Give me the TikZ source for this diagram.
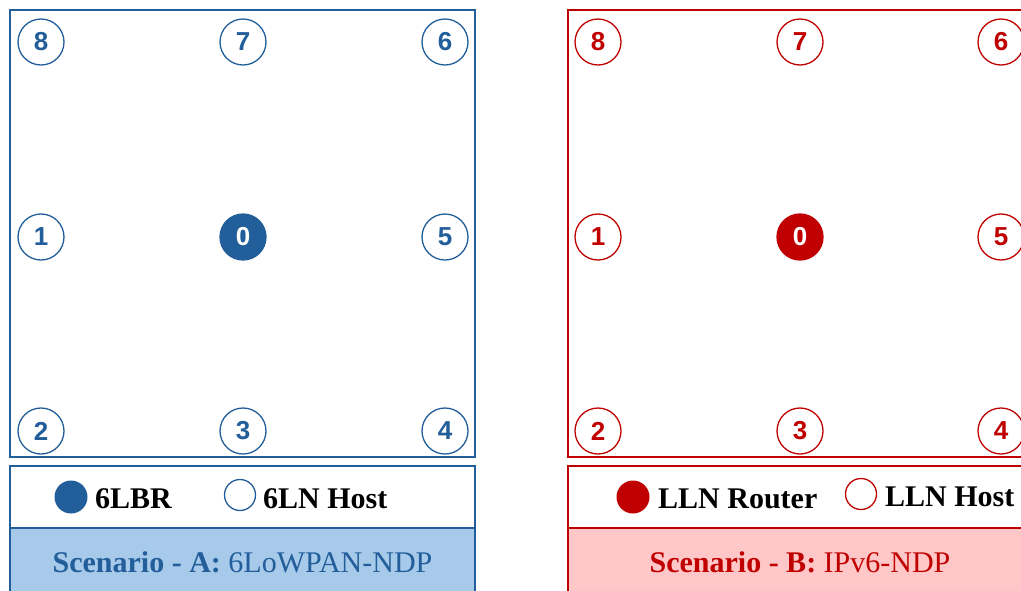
\documentclass[tikz,border=0pt]{standalone}
\usepackage{fontspec}
\setmainfont{Liberation Serif}
\newfontfamily\numfont{Liberation Sans}
\definecolor{cblue}{HTML}{225E9A}
\definecolor{lblue}{HTML}{A7C9EA}
\definecolor{cred}{HTML}{C00000}
\definecolor{lred}{HTML}{FFC7C7}
\begin{document}
\begin{tikzpicture}[x=1pt,y=-1pt,
  nodecirc/.style={circle,draw=#1,line width=1.3pt,minimum size=46pt,inner sep=0pt,fill=white,text=#1,font=\numfont\bfseries\fontsize{26}{26}\selectfont},
  rootcirc/.style={circle,draw=#1,fill=#1,line width=1.3pt,minimum size=46pt,inner sep=0pt,text=white,font=\numfont\bfseries\fontsize{26}{26}\selectfont},
  legfill/.style={circle,fill=#1,minimum size=33pt,inner sep=0pt},
  legopen/.style={circle,draw=#1,line width=1.3pt,minimum size=31pt,inner sep=0pt},
  legtext/.style={anchor=base west,inner sep=0pt,font=\bfseries\fontsize{30}{31}\selectfont},
  captext/.style={anchor=base,inner sep=0pt,text=#1,font=\fontsize{30}{31}\selectfont},
  frame/.style={draw=#1,line width=1.4pt}]
\useasboundingbox (0,0) rectangle (1021,590);
\clip (0,0) rectangle (1021,590);
% ---------- Scenario A ----------
\draw[frame=cblue] (10,10) rectangle (475,457);
\draw[frame=cblue,fill=white] (10,466) rectangle (475,528);
\draw[frame=cblue,fill=lblue] (10,528) rectangle (475,600);
\node[nodecirc=cblue] (a8) at (41,42) {8};
\node[nodecirc=cblue] (a7) at (243,42) {7};
\node[nodecirc=cblue] (a6) at (445,42) {6};
\node[nodecirc=cblue] (a1) at (41,237) {1};
\node[rootcirc=cblue] (a0) at (243,237) {0};
\node[nodecirc=cblue] (a5) at (445,237) {5};
\node[nodecirc=cblue] (a2) at (41,431) {2};
\node[nodecirc=cblue] (a3) at (243,431) {3};
\node[nodecirc=cblue] (a4) at (445,431) {4};
\node[legfill=cblue] (alf) at (71,497) {};
\node[legtext] (alft) at (95,508) {6LBR};
\node[legopen=cblue] (alo) at (240,495) {};
\node[legtext] (alot) at (263,508) {6LN Host};
\node[captext=cblue] (acap) at (242.5,572) {\textbf{Scenario - A:} 6LoWPAN-NDP};
% ---------- Scenario B ----------
\draw[frame=cred] (568,10) rectangle (1032,457);
\draw[frame=cred,fill=white] (568,466) rectangle (1032,528);
\draw[frame=cred,fill=lred] (568,528) rectangle (1032,600);
\node[nodecirc=cred] (b8) at (598,42) {8};
\node[nodecirc=cred] (b7) at (800,42) {7};
\node[nodecirc=cred] (b6) at (1001,42) {6};
\node[nodecirc=cred] (b1) at (598,237) {1};
\node[rootcirc=cred] (b0) at (800,237) {0};
\node[nodecirc=cred] (b5) at (1001,237) {5};
\node[nodecirc=cred] (b2) at (598,431) {2};
\node[nodecirc=cred] (b3) at (800,431) {3};
\node[nodecirc=cred] (b4) at (1001,431) {4};
\node[legfill=cred] (blf) at (633,497) {};
\node[legtext] (blft) at (658,508) {LLN Router};
\node[legopen=cred] (blo) at (861,494) {};
\node[legtext] (blot) at (885,506) {LLN Host};
\node[captext=cred] (bcap) at (800,572) {\textbf{Scenario - B:} IPv6-NDP};
\end{tikzpicture}
\end{document}
